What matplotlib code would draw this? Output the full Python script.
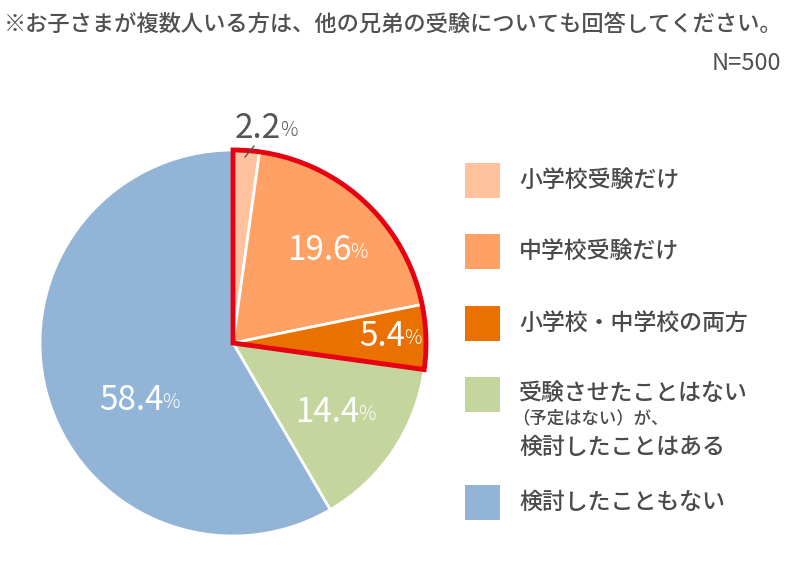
import matplotlib
matplotlib.use("Agg")
import matplotlib.pyplot as plt
from matplotlib.patches import Wedge, Rectangle

plt.rcParams['font.family'] = ['Noto Sans CJK JP', 'DejaVu Sans']

# data
labels = ["小学校受験だけ", "中学校受験だけ", "小学校・中学校の両方",
          "受験させたことはない\n（予定はない）が、\n検討したことはある", "検討したこともない"]
values = [2.2, 19.6, 5.4, 14.4, 58.4]
colors = ["#FFC29C", "#FFA164", "#EA7000", "#C5D59E", "#92B4D6"]
title = "※お子さまが複数人いる方は、他の兄弟の受験についても回答してください。"
n_text = "N=500"

W, H = 800, 570
fig = plt.figure(figsize=(8, 5.7), dpi=100)
ax = fig.add_axes([0, 0, 1, 1])

def Y(y):
    return H - y

cx, cy, r = 233, Y(343), 193
ax.pie(values, colors=colors, startangle=90, counterclock=False,
       center=(cx, cy), radius=r,
       wedgeprops=dict(edgecolor="white", linewidth=2))

# red outline around the first three slices
hl = sum(values[:3])
ax.add_patch(Wedge((cx, cy), r, 90 - hl * 3.6, 90, fill=False,
                   edgecolor="#E60012", linewidth=3.5, joinstyle="miter"))

ax.set_xlim(0, W)
ax.set_ylim(0, H)
ax.set_aspect("equal")
ax.axis("off")

numfont = ['Noto Sans CJK JP', 'DejaVu Sans']
# percentage labels (split point x, y, color)
lab_pos = [(281, 128, "#555555"), (351, 250, "white"), (405, 337, "white"),
           (359, 413, "white"), (163, 400, "white")]
for v, (x, y, c) in zip(values, lab_pos):
    ax.text(x, Y(y), f"{v}", ha="right", va="center", fontsize=24,
            color=c, family=numfont)
    ax.text(x - 1, Y(y) - 2, "%", ha="left", va="center", fontsize=14,
            color=c, family=numfont, fontweight="light")
# leader line for 2.2%
ax.plot([254, 245], [Y(146), Y(157)], color="#555555", lw=1)

# legend
txtc = "#4A4A4A"
sq_y = [180, 251, 323, 394, 502]
for lab, c, y in zip(labels, colors, sq_y):
    ax.add_patch(Rectangle((465, Y(y) - 17.5), 35, 35, facecolor=c,
                           edgecolor="none"))
    lines = lab.split("\n")
    if len(lines) == 1:
        ax.text(519, Y(y), lab, ha="left", va="center", fontsize=16.5,
                color=txtc, fontweight="medium")
    else:
        ax.text(519, Y(y - 1), lines[0], ha="left", va="center", fontsize=16.5,
                color=txtc, fontweight="medium")
        ax.text(512, Y(y + 24), lines[1], ha="left", va="center", fontsize=12.5,
                color=txtc, fontweight="medium")
        ax.text(519, Y(y + 53), lines[2], ha="left", va="center", fontsize=16.5,
                color=txtc, fontweight="medium")

ax.text(4, Y(24), title, ha="left", va="center", fontsize=16, color="#505050",
        fontweight="medium")
ax.text(781, Y(63), n_text, ha="right", va="center", fontsize=17, color="#505050")

fig.savefig("out.png", dpi=100)
